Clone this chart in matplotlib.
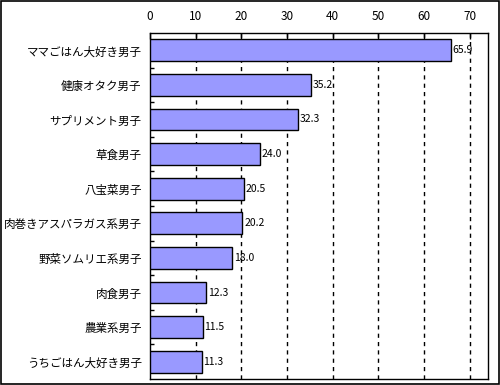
import matplotlib
matplotlib.use("Agg")
import matplotlib.pyplot as plt
from matplotlib.patches import Rectangle

plt.rcParams['font.family'] = ['Noto Sans CJK JP', 'DejaVu Sans']

categories = ["ママごはん大好き男子", "健康オタク男子", "サプリメント男子", "草食男子",
              "八宝菜男子", "肉巻きアスパラガス系男子", "野菜ソムリエ系男子", "肉食男子",
              "農業系男子", "うちごはん大好き男子"]
values = [65.9, 35.2, 32.3, 24.0, 20.5, 20.2, 18.0, 12.3, 11.5, 11.3]
xticks = [0, 10, 20, 30, 40, 50, 60, 70]

fig = plt.figure(figsize=(5, 3.85), dpi=100)
ax = fig.add_axes([150 / 500, 1 - 379 / 385, (488 - 150) / 500, (379 - 33) / 385])

n = len(categories)
ypos = list(range(n))
ax.barh(ypos, values, height=0.63, color="#9999FF", edgecolor="black", linewidth=1, zorder=3)
for y, v in zip(ypos, values):
    ax.text(v + 0.4, y, f"{v:.1f}", va="center", ha="left", fontsize=7.5, zorder=4)

ax.set_xlim(0, 74)
ax.set_ylim(n - 0.5, -0.5)
ax.set_xticks(xticks)
ax.xaxis.tick_top()
ax.tick_params(axis="x", direction="in", length=4, width=1, pad=7, labelsize=8.5)
ax.set_yticks(ypos)
ax.set_yticklabels(categories, fontsize=8.3)
ax.tick_params(axis="y", length=0, pad=6)
ax.set_yticks([i + 0.5 for i in range(n - 1)], minor=True)
ax.tick_params(axis="y", which="minor", direction="in", length=3, width=1)
for x in xticks[1:]:
    ax.axvline(x, color="black", linestyle=(0, (3, 3)), linewidth=1, zorder=1)
for s in ax.spines.values():
    s.set_linewidth(1)

fig.patches.append(Rectangle((0.002, 0.003), 0.995, 0.994, transform=fig.transFigure,
                             fill=False, edgecolor="black", linewidth=1.2))

fig.savefig("out.png", dpi=100)
